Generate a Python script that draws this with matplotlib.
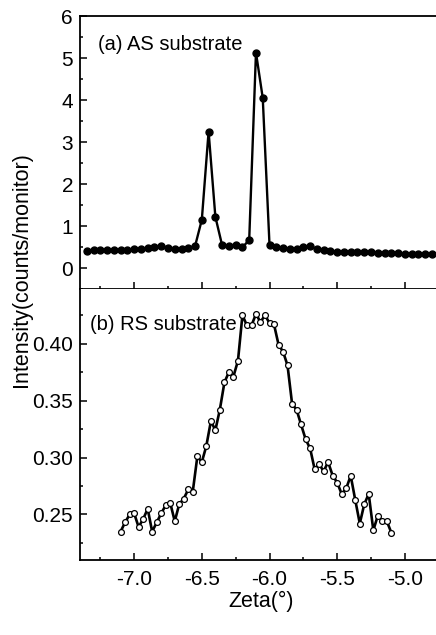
import matplotlib
matplotlib.use("Agg")
import matplotlib.pyplot as plt
from matplotlib.ticker import MultipleLocator, FormatStrFormatter

plt.rcParams['font.family'] = ['Liberation Sans', 'DejaVu Sans']

# (a) AS substrate
zeta_a = [-7.35, -7.30, -7.25, -7.20, -7.15, -7.10, -7.05, -7.00, -6.95, -6.90,
          -6.85, -6.80, -6.75, -6.70, -6.65, -6.60, -6.55, -6.50, -6.45, -6.40,
          -6.35, -6.30, -6.25, -6.20, -6.15, -6.10, -6.05, -6.00, -5.95, -5.90,
          -5.85, -5.80, -5.75, -5.70, -5.65, -5.60, -5.55, -5.50, -5.45, -5.40,
          -5.35, -5.30, -5.25, -5.20, -5.15, -5.10, -5.05, -5.00, -4.95, -4.90,
          -4.85, -4.80]
int_a = [0.41, 0.42, 0.43, 0.42, 0.43, 0.42, 0.42, 0.45, 0.45, 0.48,
         0.50, 0.53, 0.48, 0.46, 0.46, 0.48, 0.52, 1.15, 3.25, 1.22,
         0.54, 0.52, 0.55, 0.49, 0.67, 5.13, 4.05, 0.55, 0.50, 0.48,
         0.46, 0.46, 0.49, 0.52, 0.45, 0.43, 0.40, 0.39, 0.39, 0.38,
         0.38, 0.37, 0.37, 0.36, 0.36, 0.35, 0.35, 0.34, 0.34, 0.34,
         0.33, 0.33]

# (b) RS substrate
zeta_b = [-7.100, -7.067, -7.033, -7.000, -6.967, -6.933, -6.900, -6.867, -6.833, -6.800,
          -6.767, -6.733, -6.700, -6.667, -6.633, -6.600, -6.567, -6.533, -6.500, -6.467,
          -6.433, -6.400, -6.367, -6.333, -6.300, -6.267, -6.233, -6.200, -6.167, -6.133,
          -6.100, -6.067, -6.033, -6.000, -5.967, -5.933, -5.900, -5.867, -5.833, -5.800,
          -5.767, -5.733, -5.700, -5.667, -5.633, -5.600, -5.567, -5.533, -5.500, -5.467,
          -5.433, -5.400, -5.367, -5.333, -5.300, -5.267, -5.233, -5.200, -5.167, -5.133,
          -5.100]
int_b = [0.235, 0.243, 0.250, 0.251, 0.239, 0.246, 0.255, 0.235, 0.243, 0.251,
         0.258, 0.260, 0.244, 0.259, 0.264, 0.272, 0.270, 0.301, 0.296, 0.310,
         0.332, 0.324, 0.342, 0.366, 0.375, 0.371, 0.385, 0.425, 0.416, 0.416,
         0.426, 0.419, 0.425, 0.418, 0.417, 0.399, 0.393, 0.381, 0.347, 0.342,
         0.329, 0.316, 0.308, 0.290, 0.294, 0.288, 0.296, 0.284, 0.278, 0.268,
         0.273, 0.284, 0.263, 0.242, 0.259, 0.268, 0.236, 0.249, 0.244, 0.244,
         0.234]

xticks = [-7.0, -6.5, -6.0, -5.5, -5.0]
xtick_labels = ['-7.0', '-6.5', '-6.0', '-5.5', '-5.0']

fig = plt.figure(figsize=(4.36, 6.35), dpi=100)
left = 80 / 436
axA = fig.add_axes([left, 1 - 289 / 635, 1 - left, (289 - 16) / 635])
axB = fig.add_axes([left, 1 - 560 / 635, 1 - left, (560 - 289) / 635], sharex=axA)

axA.plot(zeta_a, int_a, '-o', color='black', lw=1.7, ms=5.0,
         mfc='black', mec='black')
axB.plot(zeta_b, int_b, '-o', color='black', lw=1.9, ms=4.2,
         mfc='white', mec='black', mew=0.9)

axA.set_xlim(-7.4, -4.77)
axA.set_ylim(-0.5, 6)
axB.set_ylim(0.21, 0.448)

axA.yaxis.set_major_locator(MultipleLocator(1))
axA.yaxis.set_minor_locator(MultipleLocator(0.5))
axB.yaxis.set_major_locator(MultipleLocator(0.05))
axB.yaxis.set_minor_locator(MultipleLocator(0.025))
axB.set_xticks(xticks)
axB.set_xticklabels(xtick_labels)
axB.xaxis.set_minor_locator(MultipleLocator(0.25))

for ax in (axA, axB):
    ax.spines['right'].set_visible(False)
    for s in ('left', 'top', 'bottom'):
        ax.spines[s].set_linewidth(1.3)
    ax.tick_params(which='both', direction='in', top=False, right=False,
                   width=1.1, labelsize=15)
    ax.tick_params(which='major', length=5)
    ax.tick_params(which='minor', length=2.5)
    ax.tick_params(axis='y', pad=5)
    ax.tick_params(axis='x', pad=7)

axA.tick_params(axis='x', labelbottom=False)
axB.spines['top'].set_visible(False)
axB.yaxis.set_major_formatter(FormatStrFormatter('%.2f'))

axA.text(0.05, 0.895, '(a) AS substrate', transform=axA.transAxes,
         fontsize=14.5, va='center', ha='left')
axB.text(0.028, 0.87, '(b) RS substrate', transform=axB.transAxes,
         fontsize=14.5, va='center', ha='left')

fig.text(21 / 436, 1 - 270 / 635, 'Intensity(counts/monitor)', rotation=90,
         fontsize=15.5, ha='center', va='center')
fig.text(261 / 436, 1 - 601 / 635, 'Zeta(°)', fontsize=15.5,
         ha='center', va='center')

fig.savefig('out.png', dpi=100)
